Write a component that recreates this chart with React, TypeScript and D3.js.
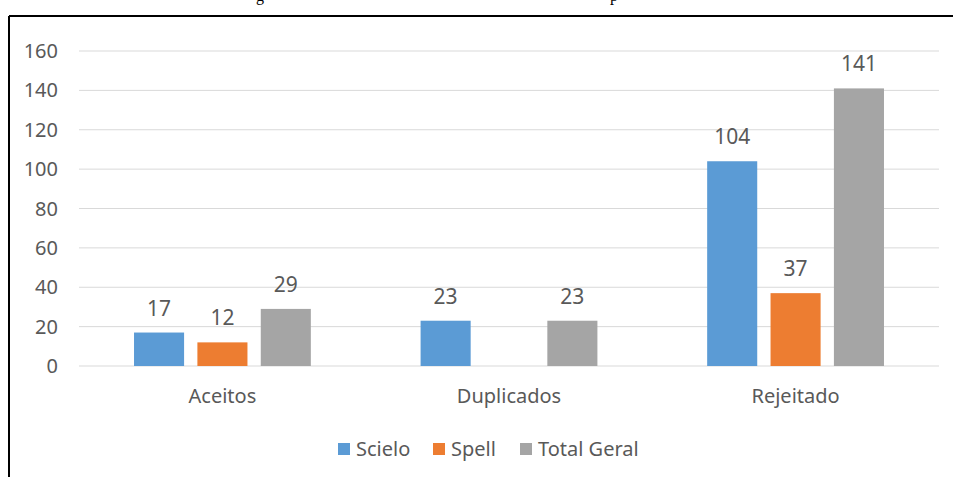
import React from "react";
import * as d3 from "d3";

const categories = ["Aceitos", "Duplicados", "Rejeitado"];
const seriesNames = ["Scielo", "Spell", "Total Geral"];
const scielo = [17, 23, 104];
const spell = [12, 0, 37];
const totalGeral = [29, 23, 141];
const yTicks = [0, 20, 40, 60, 80, 100, 120, 140, 160];
const colors = ["#5B9BD5", "#ED7D31", "#A5A5A5"];

const W = 953;
const H = 477;
const FONT = "'Noto Sans', sans-serif";
const TEXT = "#595959";

export default function App() {
  const series = [scielo, spell, totalGeral];
  const y = d3.scaleLinear().domain([0, 160]).range([366, 51]);
  const x0 = d3.scaleBand<string>().domain(categories).range([79, 939]).paddingInner(0.383).paddingOuter(0.192);
  const x1 = d3.scaleBand<string>().domain(seriesNames).range([0, x0.bandwidth()]).paddingInner(0.21);

  return (
    <svg width={W} height={H} style={{ position: "fixed", left: 0, top: 0, background: "#fff" }}>
      <rect x={0} y={0} width={W} height={H} fill="#fff" />
      {/* caption glyphs above the frame */}
      <text x={256} y={1} fontFamily="'Liberation Serif', serif" fontSize={16} fill="#000">g</text>
      <text x={610} y={1} fontFamily="'Liberation Serif', serif" fontSize={16} fill="#000">p</text>
      {/* frame */}
      <line x1={9} x2={W} y1={16} y2={16} stroke="#000" strokeWidth={2} />
      <line x1={9} x2={9} y1={16} y2={H} stroke="#000" strokeWidth={2} />
      {/* gridlines and y ticks */}
      {yTicks.map((t) => (
        <g key={t}>
          <line x1={79} x2={939} y1={y(t)} y2={y(t)} stroke="#D9D9D9" strokeWidth={1} />
          <text x={58} y={y(t)} dy="0.35em" textAnchor="end" fontFamily={FONT} fontSize={20} fill={TEXT}>{t}</text>
        </g>
      ))}
      {/* bars */}
      {categories.map((c, ci) => (
        <g key={c} transform={`translate(${x0(c)},0)`}>
          {seriesNames.map((s, si) => {
            const v = series[si][ci];
            if (!v) return null;
            const bx = x1(s)!;
            return (
              <g key={s}>
                <rect x={bx} y={y(v)} width={x1.bandwidth()} height={y(0) - y(v)} fill={colors[si]} />
                <text x={bx + x1.bandwidth() / 2} y={y(v) - 17} textAnchor="middle" fontFamily={FONT} fontSize={21} fill={TEXT}>{v}</text>
              </g>
            );
          })}
          <text x={x0.bandwidth() / 2} y={403} textAnchor="middle" fontFamily={FONT} fontSize={20} fill={TEXT}>{c}</text>
        </g>
      ))}
      {/* legend */}
      {seriesNames.map((s, i) => {
        const lx = [338, 433, 520][i];
        return (
          <g key={s}>
            <rect x={lx} y={443} width={12} height={12} fill={colors[i]} />
            <text x={lx + 18} y={456} fontFamily={FONT} fontSize={20} fill={TEXT}>{s}</text>
          </g>
        );
      })}
    </svg>
  );
}
